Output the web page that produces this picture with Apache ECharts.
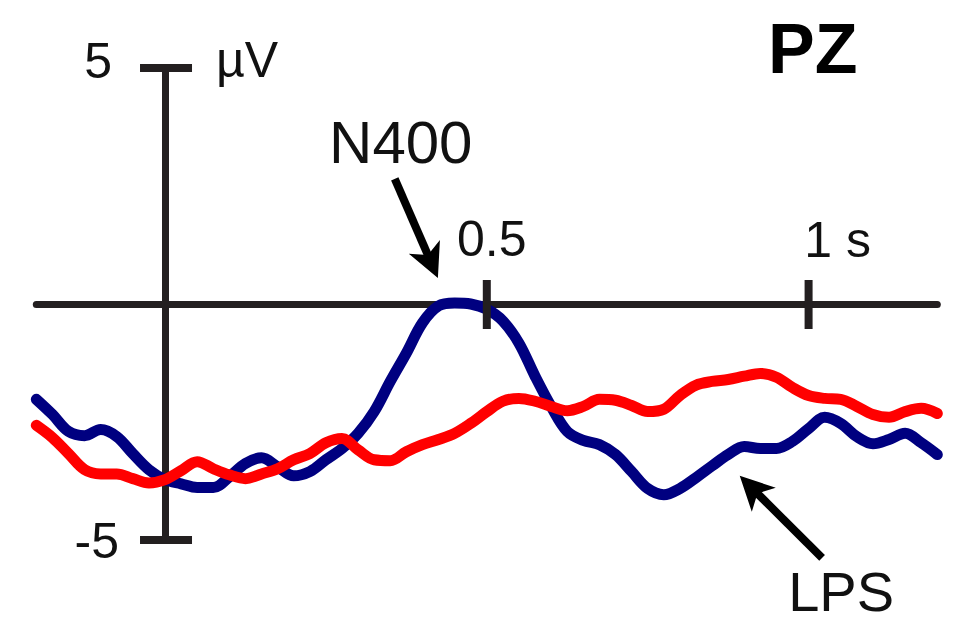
<!DOCTYPE html>
<html><head><meta charset="utf-8">
<script src="https://cdn.jsdelivr.net/npm/echarts@6/dist/echarts.min.js"></script>
<style>html,body{margin:0;padding:0;background:#fff}#c{width:955px;height:625px}</style>
</head><body><div id="c"></div>
<script>
// time in seconds
const times = [-0.2,-0.175,-0.15,-0.125,-0.1,-0.075,-0.05,-0.025,0,0.025,0.05,0.075,0.1,0.125,0.15,0.175,0.2,0.225,0.25,0.275,0.3,0.325,0.35,0.375,0.4,0.425,0.45,0.475,0.5,0.525,0.55,0.575,0.6,0.625,0.65,0.675,0.7,0.725,0.75,0.775,0.8,0.825,0.85,0.875,0.9,0.925,0.95,0.975,1.0,1.025,1.05,1.075,1.1,1.125,1.15,1.175,1.2];
// amplitude in µV
const blueWave = [-2.02,-2.34,-2.70,-2.79,-2.66,-2.81,-3.17,-3.51,-3.72,-3.81,-3.89,-3.89,-3.66,-3.38,-3.26,-3.45,-3.64,-3.55,-3.30,-3.06,-2.74,-2.28,-1.64,-1.04,-0.40,-0.04,0.02,0.00,-0.11,-0.36,-0.83,-1.53,-2.17,-2.70,-2.89,-2.98,-3.19,-3.55,-3.91,-4.04,-3.91,-3.68,-3.43,-3.19,-3.02,-3.06,-3.06,-2.91,-2.64,-2.40,-2.53,-2.81,-2.96,-2.87,-2.74,-2.94,-3.19];
const redWave = [-2.57,-2.83,-3.17,-3.51,-3.60,-3.60,-3.70,-3.79,-3.72,-3.53,-3.34,-3.49,-3.62,-3.70,-3.60,-3.49,-3.30,-3.17,-2.94,-2.85,-3.09,-3.30,-3.32,-3.13,-2.98,-2.87,-2.74,-2.53,-2.28,-2.06,-2.00,-2.06,-2.17,-2.26,-2.17,-2.02,-2.04,-2.15,-2.28,-2.23,-1.94,-1.72,-1.64,-1.60,-1.53,-1.47,-1.55,-1.77,-1.94,-2.00,-2.02,-2.17,-2.34,-2.40,-2.28,-2.21,-2.32];
const xTickValues = [0.5, 1];
const xTickLabels = ['0.5', '1 s'];
const yTickValues = [5, -5];
const yTickLabels = ['5', '-5'];
const yUnit = 'µV';
const channel = 'PZ';
const n400Arrow = { label: 'N400', from: [0.357, 2.65], to: [0.424, 0.55] };
const lpsArrow = { label: 'LPS', from: [1.021, -5.38], to: [0.893, -3.64] };

// layout (pixel offsets of tick labels from their tick)
const xLabelOffset = [[5, -65], [29, -64]];
const yLabelOffset = [[-53, -7], [-46, 1]];

const AX = '#231f20';
const FONT = '"Liberation Sans", Arial, Helvetica, sans-serif';
const chart = echarts.init(document.getElementById('c'), null, { renderer: 'svg' });
const zip = (a, b) => a.map((t, i) => [t, b[i]]);

chart.setOption({
  animation: false,
  backgroundColor: '#ffffff',
  title: { text: channel, left: 763, top: 9, textStyle: { fontFamily: FONT, fontSize: 70, fontWeight: 'bold', color: '#000' } },
  grid: { left: 36.3, right: 17.7, top: 68, bottom: 85, containLabel: false, outerBoundsMode: 'none' },
  xAxis: {
    type: 'value', min: -0.2, max: 1.2,
    axisLine: { show: true, onZero: true, lineStyle: { color: AX, width: 7 } },
    axisTick: { show: false }, splitLine: { show: false }, axisLabel: { show: false }
  },
  yAxis: {
    type: 'value', min: -5, max: 5,
    axisLine: { show: true, onZero: true, lineStyle: { color: AX, width: 7 } },
    axisTick: { show: false }, splitLine: { show: false }, axisLabel: { show: false }
  },
  series: [
    { type: 'line', data: zip(times, blueWave), showSymbol: false, smooth: 0.35, z: 3,
      lineStyle: { color: '#000080', width: 11, cap: 'round', join: 'round' } },
    { type: 'line', data: zip(times, redWave), showSymbol: false, smooth: 0.35, z: 4,
      lineStyle: { color: '#ff0000', width: 11, cap: 'round', join: 'round' } }
  ]
});

const P = d => chart.convertToPixel({ gridIndex: 0 }, d);
const g = [];
const txt = (x, y, text, size, align, weight) => ({
  type: 'text', x, y, z: 10,
  style: { text, fontSize: size, fontFamily: FONT, fontWeight: weight || 'normal', fill: '#111', align, verticalAlign: 'middle', textAlign: align, textVerticalAlign: 'middle' }
});
xTickValues.forEach((v, i) => {
  const p = P([v, 0]);
  g.push({ type: 'line', shape: { x1: p[0], y1: p[1] - 24, x2: p[0], y2: p[1] + 25 }, style: { stroke: AX, lineWidth: 8 }, z: 10 });
  g.push(txt(p[0] + xLabelOffset[i][0], p[1] + xLabelOffset[i][1], xTickLabels[i], 50, 'center'));
});
yTickValues.forEach((v, i) => {
  const p = P([0, v]);
  g.push({ type: 'line', shape: { x1: p[0] - 25, y1: p[1], x2: p[0] + 27, y2: p[1] }, style: { stroke: AX, lineWidth: 8 }, z: 10 });
  g.push(txt(p[0] + yLabelOffset[i][0], p[1] + yLabelOffset[i][1], yTickLabels[i], 50, 'right'));
});
const pu = P([0, 5]);
g.push(txt(pu[0] + 51, pu[1] - 8, yUnit, 50, 'left'));

function arrow(a, dx, dy, size) {
  const t = P(a.from), h = P(a.to);
  const vx = h[0] - t[0], vy = h[1] - t[1];
  const len = Math.hypot(vx, vy);
  const ux = vx / len, uy = vy / len, nx = -uy, ny = ux;
  const L = 34, W = 17, N = 25;
  const bx = h[0] - ux * L, by = h[1] - uy * L;
  const nxp = h[0] - ux * N, nyp = h[1] - uy * N;
  g.push({ type: 'line', shape: { x1: t[0], y1: t[1], x2: nxp + ux * 2, y2: nyp + uy * 2 }, style: { stroke: '#000', lineWidth: 8 }, z: 10 });
  g.push({ type: 'polygon', shape: { points: [[h[0], h[1]], [bx + nx * W, by + ny * W], [nxp, nyp], [bx - nx * W, by - ny * W]] }, style: { fill: '#000' }, z: 10 });
  g.push(txt(t[0] + dx, t[1] + dy, a.label, size, 'center'));
}
arrow(n400Arrow, 6, -36, 60);
arrow(lpsArrow, 19, 34, 56);

chart.setOption({ graphic: { elements: g } });
</script>
</body></html>
